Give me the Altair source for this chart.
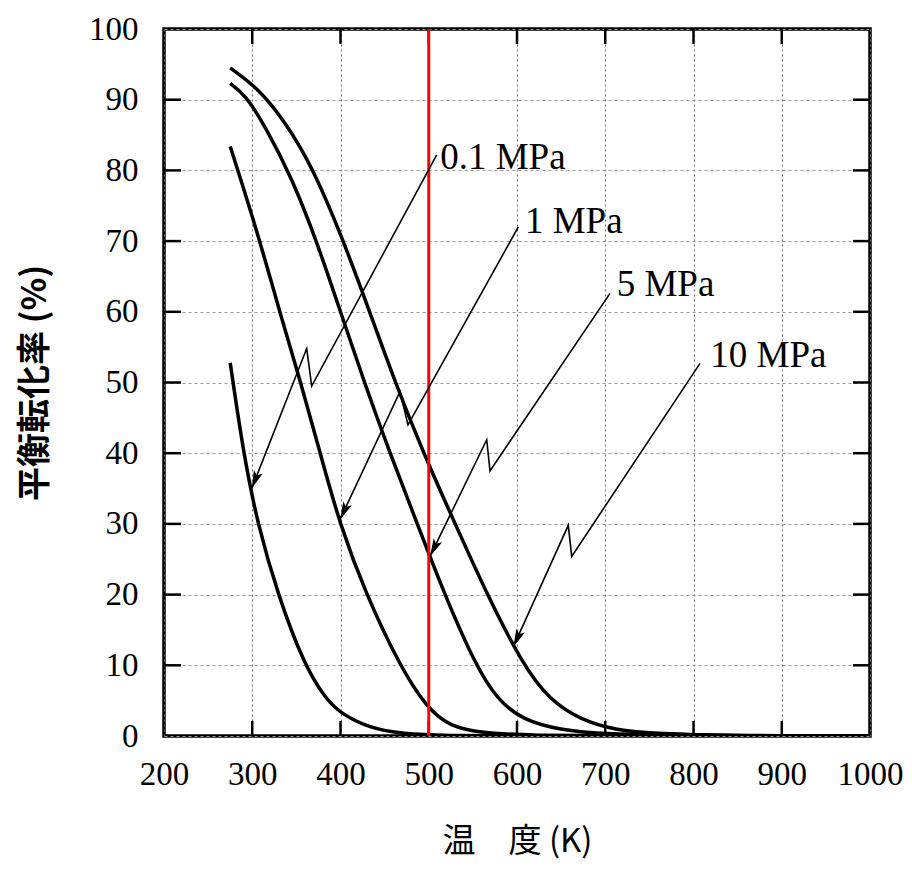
import math
import altair as alt
import pandas as pd

# ---------------- data ----------------
temp_01 = [275, 290, 306, 329, 359, 383, 400, 433, 470, 520, 600, 1000]
conv_01 = [52.8, 40, 30, 20, 10, 5.3, 3.2, 1.1, 0.3, 0.05, 0, 0]

temp_1 = [275, 284, 309, 331, 355, 377, 399, 429, 467, 497, 524, 562, 620, 700, 1000]
conv_1 = [83.4, 79.9, 69.9, 60, 50, 40, 30, 20, 10, 4.1, 1.3, 0.4, 0.08, 0.01, 0]

temp_5 = [275, 292, 314, 345, 373, 400, 427, 456, 487, 518, 553, 578, 606, 648, 700, 800, 1000]
conv_5 = [92.3, 90.7, 86.4, 78.9, 70, 60, 50, 40, 30, 20, 10, 5.1, 2.3, 0.85, 0.25, 0.03, 0]

temp_10 = [275, 307, 337, 367, 403, 433, 462, 494, 530, 566, 607, 637, 672, 710, 760, 850, 1000]
conv_10 = [94.5, 91.6, 86.9, 80.8, 70.2, 60, 50, 40, 30, 20, 10, 5.1, 2.3, 0.85, 0.3, 0.05, 0]

pressures = ["0.1 MPa", "1 MPa", "5 MPa", "10 MPa"]

# label anchors (text start) and leader paths: start -> trough -> peak -> arrow tip
label_T = [513, 609, 713, 819]
label_X = [81.8, 72.7, 63.8, 53.8]
leader_T = [[509, 367.4, 361.7, 299.4],
            [601.5, 476.5, 467.4, 399.4],
            [705.4, 569.4, 565.7, 501.4],
            [807.4, 662.0, 658.1, 595.8]]
leader_X = [[82.2, 49.5, 54.8, 35.0],
            [72.0, 44.0, 48.7, 30.6],
            [62.6, 37.5, 41.9, 25.4],
            [52.7, 25.4, 29.8, 12.6]]

red_line_T = [500]
x_ticks = [200, 300, 400, 500, 600, 700, 800, 900, 1000]
y_ticks = [0, 10, 20, 30, 40, 50, 60, 70, 80, 90, 100]
inner_x_ticks = [300, 400, 500, 600, 700, 800, 900]
inner_y_ticks = [10, 20, 30, 40, 50, 60, 70, 80, 90]

# ---------------- layout ----------------
W, H = 706, 707
TICK = 15

curves = pd.concat([
    pd.DataFrame({"T": t, "X": c, "p": name, "i": range(len(t))})
    for t, c, name in zip([temp_01, temp_1, temp_5, temp_10],
                          [conv_01, conv_1, conv_5, conv_10], pressures)
])

leaders = pd.concat([
    pd.DataFrame({"T": lt, "X": lx, "p": name, "i": range(len(lt))})
    for lt, lx, name in zip(leader_T, leader_X, pressures)
])

kx = W / 800.0
ky = H / 100.0
heads = []
for lt, lx, name in zip(leader_T, leader_X, pressures):
    dx = (lt[3] - lt[2]) * kx
    dy = -(lx[3] - lx[2]) * ky
    ang = math.degrees(math.atan2(-dx, dy)) % 360
    heads.append({"T": lt[3], "X": lx[3], "p": name, "ang": ang})
heads = pd.DataFrame(heads)

labels = pd.DataFrame({"T": label_T, "X": label_X, "p": pressures})

xs = alt.Scale(domain=[200, 1000], nice=False, zero=False)
ys = alt.Scale(domain=[0, 100], nice=False)

x_axis = alt.Axis(values=x_ticks, format="d", title="温\u3000度 (K)", grid=True,
                  gridDash=[2, 3], gridColor="#666", gridWidth=1, ticks=False, tickSize=0,
                  domain=False, labelFont="Liberation Serif", labelFontSize=33,
                  labelColor="black", labelPadding=22, labelFlush=False, labelOverlap=False,
                  titleFont="Noto Sans CJK JP", titleFontSize=33, titleFontWeight="normal",
                  titleColor="black", titlePadding=34)
y_axis = alt.Axis(values=y_ticks, format="d", title="平衡転化率 (%)", grid=True,
                  gridDash=[3, 3], gridColor="#999", gridWidth=1, ticks=False, tickSize=0,
                  domain=False, labelFont="Liberation Serif", labelFontSize=33,
                  labelColor="black", labelPadding=26, labelFlush=False, labelOverlap=False,
                  titleFont="Noto Sans CJK JP", titleFontSize=34, titleFontWeight="bold",
                  titleColor="black", titlePadding=36)

base_lines = alt.Chart(curves).mark_line(interpolate="basis", color="black",
                                         strokeWidth=3.5, clip=True).encode(
    x=alt.X("T:Q", scale=xs, axis=x_axis),
    y=alt.Y("X:Q", scale=ys, axis=y_axis),
    detail="p:N",
    order="i:Q",
)

tx = pd.DataFrame({"T": inner_x_ticks})
ty = pd.DataFrame({"X": inner_y_ticks})
tick_bottom = alt.Chart(tx).mark_rule(color="black", strokeWidth=2.5).encode(
    x=alt.X("T:Q", scale=xs), y=alt.value(H), y2=alt.value(H - TICK))
tick_top = alt.Chart(tx).mark_rule(color="black", strokeWidth=2.5).encode(
    x=alt.X("T:Q", scale=xs), y=alt.value(0), y2=alt.value(TICK))
tick_left = alt.Chart(ty).mark_rule(color="black", strokeWidth=2.5).encode(
    y=alt.Y("X:Q", scale=ys), x=alt.value(0), x2=alt.value(TICK + 2))
tick_right = alt.Chart(ty).mark_rule(color="black", strokeWidth=2.5).encode(
    y=alt.Y("X:Q", scale=ys), x=alt.value(W), x2=alt.value(W - TICK - 2))

red = alt.Chart(pd.DataFrame({"T": red_line_T})).mark_rule(color="#ff0000", strokeWidth=3).encode(
    x=alt.X("T:Q", scale=xs)
)

leader_lines = alt.Chart(leaders).mark_line(color="black", strokeWidth=1.6).encode(
    x=alt.X("T:Q", scale=xs), y=alt.Y("X:Q", scale=ys), detail="p:N", order="i:Q")

arrow_heads = alt.Chart(heads).mark_point(
    shape="M0,0L-0.26,-1L0,-0.78L0.26,-1Z", filled=True, size=1300,
    color="black", opacity=1, strokeWidth=0).encode(
    x=alt.X("T:Q", scale=xs), y=alt.Y("X:Q", scale=ys),
    angle=alt.Angle("ang:Q", scale=None))

texts = alt.Chart(labels).mark_text(align="left", baseline="middle",
                                    font="Liberation Serif", fontSize=37,
                                    color="black").encode(
    x=alt.X("T:Q", scale=xs), y=alt.Y("X:Q", scale=ys), text="p:N")

chart = alt.layer(
    base_lines, tick_bottom, tick_top, tick_left, tick_right, red,
    leader_lines, arrow_heads, texts
).properties(
    width=W, height=H,
    autosize=alt.AutoSizeParams(type="none"),
    padding={"left": 156, "top": 21, "right": 34, "bottom": 134},
    background="white",
).configure_view(stroke="black", strokeWidth=3.5)

chart.save("out.html", embed_options={"renderer": "svg", "actions": False})
